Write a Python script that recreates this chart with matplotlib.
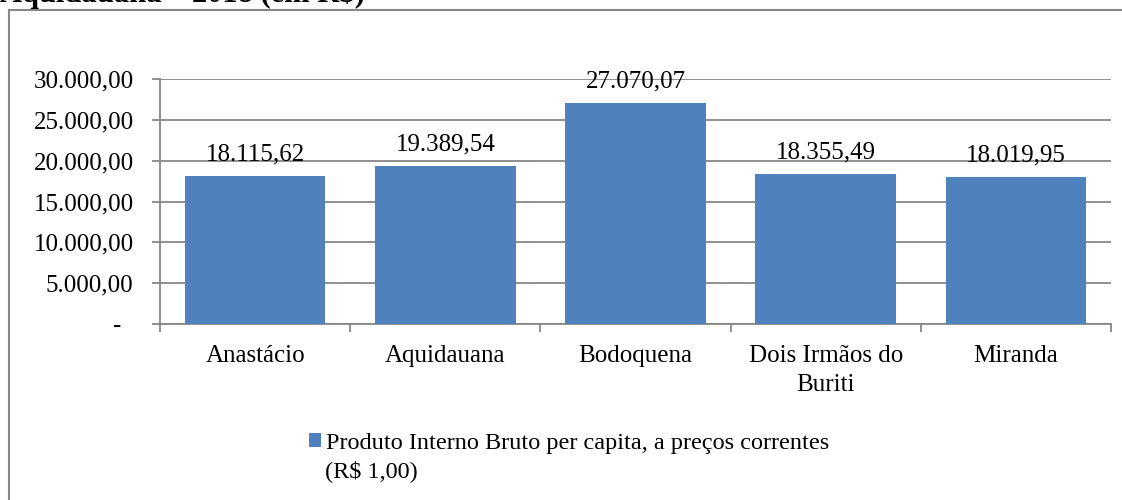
import matplotlib
matplotlib.use("Agg")
import matplotlib.pyplot as plt
from matplotlib.patches import Rectangle
from matplotlib.ticker import FixedLocator

##data
municipios = ['Anastácio', 'Aquidauana', 'Bodoquena', 'Dois Irmãos do\nBuriti', 'Miranda']
pib_per_capita = [18115.62, 19389.54, 27070.07, 18355.49, 18019.95]
y_ticks = [0, 5000, 10000, 15000, 20000, 25000, 30000]
y_labels = ['-  ', '5.000,00', '10.000,00', '15.000,00', '20.000,00', '25.000,00', '30.000,00']
serie = 'Produto Interno Bruto per capita, a preços correntes'


def fmt_br(v):
    # 18115.62 -> 18.115,62
    s = '{:,.2f}'.format(v)
    return s.replace(',', 'X').replace('.', ',').replace('X', '.')


plt.rcParams['font.family'] = ['Liberation Serif', 'DejaVu Serif']
fs = 18
W, H = 1122, 500
grey = '#878787'
blue = '#4F81BD'

fig = plt.figure(figsize=(W/100, H/100), dpi=100)
ax = fig.add_axes([160/W, 1-324/H, (1111-160)/W, (324-79)/H])

x = range(len(municipios))
bars = ax.bar(x, pib_per_capita, width=0.74, color=blue, zorder=3)
for xi, v in zip(x, pib_per_capita):
    ax.annotate(fmt_br(v), (xi, v), xytext=(0, 7.5), textcoords='offset points',
                ha='center', va='bottom', fontsize=fs, zorder=4)

ax.set_xlim(-0.5, len(municipios)-0.5)
ax.set_ylim(0, 30000)
ax.set_yticks(y_ticks)
ax.set_yticklabels(y_labels, fontsize=fs)
ax.set_xticks(list(x))
ax.set_xticklabels(municipios, fontsize=fs, linespacing=1.4)
ax.xaxis.set_minor_locator(FixedLocator([i-0.5 for i in range(len(municipios)+1)]))
ax.tick_params(axis='x', which='major', length=0, pad=15)
ax.tick_params(axis='x', which='minor', length=6, color=grey, width=1.3, direction='out')
ax.tick_params(axis='y', length=6, color=grey, width=1.3, pad=13)
ax.grid(axis='y', color=grey, linewidth=1.3, zorder=0)
for s in ['top', 'right']:
    ax.spines[s].set_visible(False)
for s in ['left', 'bottom']:
    ax.spines[s].set_color(grey)
    ax.spines[s].set_linewidth(1.3)

##legend
leg = fig.legend([bars], [serie], loc='center left', bbox_to_anchor=(309/W, 1-443/H),
                 frameon=False, fontsize=17.5, borderpad=0, borderaxespad=0,
                 handlelength=0.5, handleheight=0.5, handletextpad=0.2)
fig.text(325/W, 1-471/H, '(R$ 1,00)', fontsize=17.5, va='center', ha='left')

##outer chart border and cut title
fig.add_artist(Rectangle((8.5/W, -0.1), 1.5, 1.1-10.5/H, transform=fig.transFigure,
                         fill=False, edgecolor=grey, linewidth=1.5))
fig.text(0, 1-2/H, 'Aquidauana – 2018 (em R$)', fontsize=22, fontweight='bold',
         ha='left', va='baseline')

fig.savefig('out.png', dpi=100)
